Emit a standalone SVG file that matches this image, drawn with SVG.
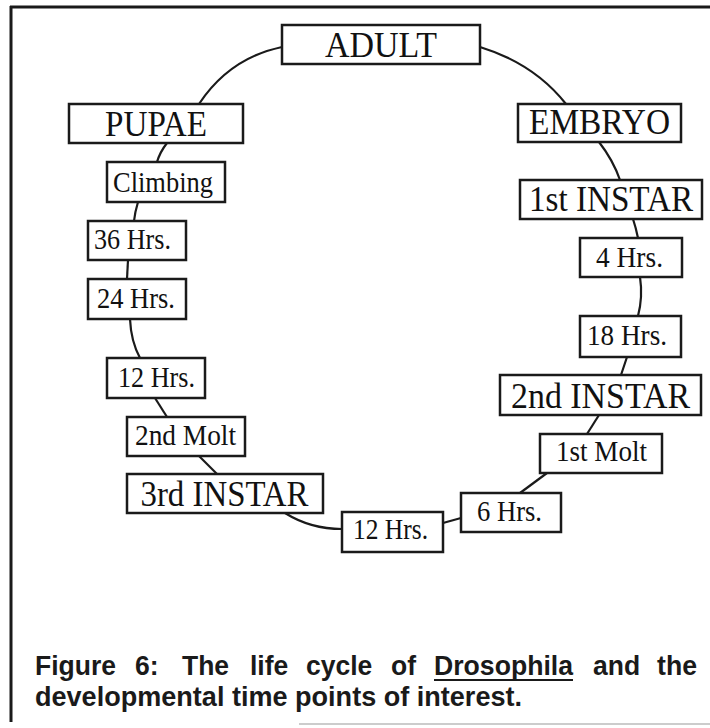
<svg xmlns="http://www.w3.org/2000/svg" width="710" height="728" viewBox="0 0 710 728">
<style>
  .box { fill: #ffffff; stroke: #1a1a1a; stroke-width: 2.5; }
  .conn { fill: none; stroke: #1a1a1a; stroke-width: 2.2; }
  .big { font-family: "Liberation Serif", "Times New Roman", serif; font-size: 35px; fill: #111; text-anchor: middle; }
  .small { font-family: "Liberation Serif", "Times New Roman", serif; font-size: 29px; fill: #111; text-anchor: middle; }
  .cap { font-family: "Liberation Sans", Arial, sans-serif; font-size: 28px; font-weight: bold; fill: #1a1a1a; }
</style>
<rect x="0" y="0" width="710" height="728" fill="#ffffff"/>
<g id="frame">
  <line x1="10" y1="7" x2="710" y2="7" stroke="#1a1a1a" stroke-width="3"/>
  <line x1="11" y1="6" x2="11" y2="722" stroke="#1a1a1a" stroke-width="3"/>
  <line x1="299" y1="724" x2="710" y2="724" stroke="#bbbbbb" stroke-width="1.5"/>
</g>
<g id="connectors">
  <path class="conn" d="M282,47 Q229.5,58 199,104"/>
  <path class="conn" d="M480,47 Q534,63.5 566,104"/>
  <path class="conn" d="M167,143 Q160,152 157,162"/>
  <path class="conn" d="M138,202 Q135,212 134,221"/>
  <path class="conn" d="M128,260 L127,279"/>
  <path class="conn" d="M130,319 Q131,341.5 140,358"/>
  <path class="conn" d="M155,398 L167,417"/>
  <path class="conn" d="M199,456 L217,474"/>
  <path class="conn" d="M285,513 Q310.5,529 342,529"/>
  <path class="conn" d="M443,523 L461,518"/>
  <path class="conn" d="M520,493 L547,473"/>
  <path class="conn" d="M587,434 L599,415"/>
  <path class="conn" d="M621,375 L627,357"/>
  <path class="conn" d="M638,316 Q643,297 640,277"/>
  <path class="conn" d="M638,238 Q636,228 633,219"/>
  <path class="conn" d="M620,180 Q613,160 599,142"/>
</g>
<g id="adult"><rect class="box" x="282" y="25" width="198" height="39"/><text class="big" x="381" y="57" textLength="112" lengthAdjust="spacingAndGlyphs">ADULT</text></g>
<g id="pupae"><rect class="box" x="69" y="104" width="174" height="39"/><text class="big" x="156" y="135.5" textLength="102" lengthAdjust="spacingAndGlyphs">PUPAE</text></g>
<g id="embryo"><rect class="box" x="518" y="104" width="163" height="38"/><text class="big" x="599.5" y="134" textLength="141" lengthAdjust="spacingAndGlyphs">EMBRYO</text></g>
<g id="instar1"><rect class="box" x="520" y="180" width="182" height="39"/><text class="big" x="611" y="211" textLength="164" lengthAdjust="spacingAndGlyphs">1st INSTAR</text></g>
<g id="instar2"><rect class="box" x="500" y="375" width="201" height="40"/><text class="big" x="600.5" y="407.5" textLength="179" lengthAdjust="spacingAndGlyphs">2nd INSTAR</text></g>
<g id="instar3"><rect class="box" x="127" y="474" width="196" height="39"/><text class="big" x="224.5" y="505.5" textLength="168" lengthAdjust="spacingAndGlyphs">3rd INSTAR</text></g>
<g id="climbing"><rect class="box" x="107" y="162" width="118" height="40"/><text class="small" x="163" y="192" textLength="100" lengthAdjust="spacingAndGlyphs">Climbing</text></g>
<g id="hrs36"><rect class="box" x="88" y="221" width="98" height="39"/><text class="small" x="132.5" y="249" textLength="77" lengthAdjust="spacingAndGlyphs">36 Hrs.</text></g>
<g id="hrs24"><rect class="box" x="88" y="279" width="98" height="40"/><text class="small" x="136" y="308" textLength="78" lengthAdjust="spacingAndGlyphs">24 Hrs.</text></g>
<g id="hrs12left"><rect class="box" x="107" y="358" width="98" height="40"/><text class="small" x="156.5" y="387" textLength="77" lengthAdjust="spacingAndGlyphs">12 Hrs.</text></g>
<g id="molt2"><rect class="box" x="127" y="417" width="118" height="39"/><text class="small" x="185.5" y="445" textLength="101" lengthAdjust="spacingAndGlyphs">2nd Molt</text></g>
<g id="hrs4"><rect class="box" x="580" y="238" width="102" height="39"/><text class="small" x="629.5" y="267" textLength="67" lengthAdjust="spacingAndGlyphs">4 Hrs.</text></g>
<g id="hrs18"><rect class="box" x="580" y="316" width="101" height="41"/><text class="small" x="627" y="345" textLength="80" lengthAdjust="spacingAndGlyphs">18 Hrs.</text></g>
<g id="molt1"><rect class="box" x="540" y="434" width="122" height="39"/><text class="small" x="601.5" y="461" textLength="91" lengthAdjust="spacingAndGlyphs">1st Molt</text></g>
<g id="hrs6"><rect class="box" x="461" y="493" width="100" height="39"/><text class="small" x="509.5" y="521" textLength="65" lengthAdjust="spacingAndGlyphs">6 Hrs.</text></g>
<g id="hrs12bottom"><rect class="box" x="342" y="512" width="101" height="40"/><text class="small" x="390.5" y="539" textLength="75" lengthAdjust="spacingAndGlyphs">12 Hrs.</text></g>
<g id="caption">
  <text class="cap" x="35" y="675" textLength="81" lengthAdjust="spacingAndGlyphs">Figure</text>
  <text class="cap" x="135" y="675" textLength="23.6" lengthAdjust="spacingAndGlyphs">6:</text>
  <text class="cap" x="182" y="675" textLength="47.1" lengthAdjust="spacingAndGlyphs">The</text>
  <text class="cap" x="250" y="675" textLength="38.3" lengthAdjust="spacingAndGlyphs">life</text>
  <text class="cap" x="306" y="675" textLength="66.3" lengthAdjust="spacingAndGlyphs">cycle</text>
  <text class="cap" x="391" y="675" textLength="25" lengthAdjust="spacingAndGlyphs">of</text>
  <text class="cap" x="434" y="675" textLength="139" lengthAdjust="spacingAndGlyphs">Drosophila</text>
  <line x1="434" y1="680" x2="573" y2="680" stroke="#1a1a1a" stroke-width="2"/>
  <text class="cap" x="593" y="675" textLength="47.1" lengthAdjust="spacingAndGlyphs">and</text>
  <text class="cap" x="657" y="675" textLength="40" lengthAdjust="spacingAndGlyphs">the</text>
  <text class="cap" x="35" y="706" textLength="487" lengthAdjust="spacingAndGlyphs">developmental time points of interest.</text>
</g>
</svg>
